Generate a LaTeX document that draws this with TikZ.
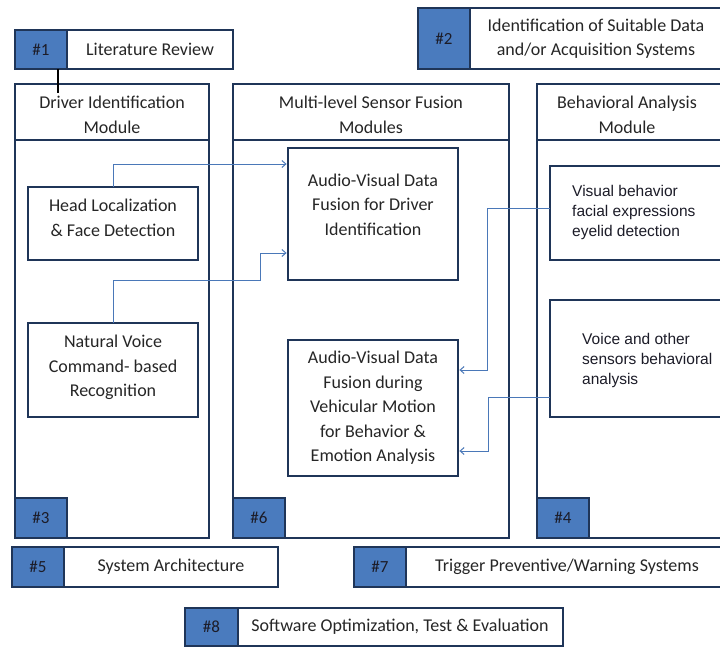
\documentclass[tikz,border=0pt]{standalone}
\usepackage{fontspec}
\setmainfont{Carlito}
\newfontfamily\arialf{Liberation Sans}
\usetikzlibrary{arrows.meta}
\definecolor{navy}{HTML}{1F3558}
\definecolor{tagblue}{HTML}{4A7BBE}
\definecolor{linkblue}{HTML}{4A78B8}
\definecolor{ink}{HTML}{262626}
\definecolor{inkb}{HTML}{1C1C28}
\begin{document}
\begin{tikzpicture}[x=1pt,y=-1pt,
  frame/.style={draw=navy, line width=2.8pt, fill=white, inner sep=0pt, outer sep=0pt, anchor=north west},
  tag/.style={frame, fill=tagblue, minimum width=52pt, minimum height=40pt},
  lbl/.style={font=\fontsize{18}{24.5}\selectfont, text=ink, align=center, inner sep=0pt},
  num/.style={font=\fontsize{17}{20}\selectfont, text=inkb, inner sep=0pt},
  arl/.style={font=\arialf\fontsize{15.5}{19.8}\selectfont, text=inkb, align=left, inner sep=0pt, anchor=west},
  link/.style={draw=linkblue, line width=1pt, shorten >=1.4pt, -{Straight Barb[length=4pt,width=7pt]}},
  tick/.style={draw=black, line width=1.6pt},
]
\clip (0,0) rectangle (720,648);
\fill[white] (0,0) rectangle (720,648);

% ---- top tasks
\node[frame, minimum width=218pt, minimum height=39pt] (b1) at (15,30) {};
\node[tag, minimum height=39pt] (t1) at (15,30) {};
\node[num] (n1) at (t1.center) {\#1};
\node[lbl] (l1) at (150,49) {Literature Review};

\node[frame, minimum width=306pt, minimum height=61pt] (b2) at (418,8) {};
\node[tag, minimum height=61pt] (t2) at (418,8) {};
\node[num] (n2) at (t2.center) {\#2};
\node[lbl] (l2) at (596,38.5) {Identification of Suitable Data\\and/or Acquisition Systems};

% ---- module columns
\node[frame, minimum width=194pt, minimum height=454pt] (c1) at (15,84) {};
\node[frame, minimum width=194pt, minimum height=56pt] (h1) at (15,84) {};
\node[lbl] (hl1) at (112,115) {Driver Identification\\Module};

\node[frame, minimum width=276pt, minimum height=454pt] (c2) at (233,84) {};
\node[frame, minimum width=276pt, minimum height=56pt] (h2) at (233,84) {};
\node[lbl] (hl2) at (371,115) {Multi-level Sensor Fusion\\Modules};

\node[frame, minimum width=190pt, minimum height=454pt] (c3) at (537,84) {};
\node[frame, minimum width=190pt, minimum height=56pt] (h3) at (537,84) {};
\node[lbl] (hl3) at (627,115) {Behavioral Analysis\\Module};

% ---- inner boxes
\node[frame, minimum width=170pt, minimum height=73pt] (hl) at (28,187) {};
\node[lbl] (hlt) at (113,218) {Head Localization\\\& Face Detection};

\node[frame, minimum width=170pt, minimum height=94pt] (nv) at (28,323) {};
\node[lbl] (nvt) at (113,367.5) {Natural Voice\\Command- based\\Recognition};

\node[frame, minimum width=170pt, minimum height=132pt] (avd) at (288,148) {};
\node[lbl] (avdt) at (373,204.5) {Audio-Visual Data\\Fusion for Driver\\Identification};

\node[frame, minimum width=170pt, minimum height=136pt] (avm) at (288,340) {};
\node[lbl] (avmt) at (373,408) {Audio-Visual Data\\Fusion during\\Vehicular Motion\\for Behavior \&\\Emotion Analysis};

\node[frame, minimum width=180pt, minimum height=94pt] (vb) at (550,166) {};
\node[arl] (vbt) at (572,212.5) {Visual behavior\\facial expressions\\eyelid detection};

\node[frame, minimum width=180pt, minimum height=117pt] (vo) at (550,300) {};
\node[arl] (vot) at (582,360.5) {Voice and other\\sensors behavioral\\analysis};

% ---- corner tags of the columns
\node[tag] (t3) at (15,498) {};
\node[num] (n3) at (t3.center) {\#3};
\node[tag] (t6) at (233,498) {};
\node[num] (n6) at (t6.center) {\#6};
\node[tag] (t4) at (537,498) {};
\node[num] (n4) at (t4.center) {\#4};

% ---- bottom tasks
\node[frame, minimum width=266pt, minimum height=40pt] (b5) at (12,547) {};
\node[tag] (t5) at (12,547) {};
\node[num] (n5) at (t5.center) {\#5};
\node[lbl] (l5) at (171,567) {System Architecture};

\node[frame, minimum width=380pt, minimum height=40pt] (b7) at (354,547) {};
\node[tag] (t7) at (354,547) {};
\node[num] (n7) at (t7.center) {\#7};
\node[lbl] (l7) at (567,567) {Trigger Preventive/Warning Systems};

\node[frame, minimum width=378pt, minimum height=38pt] (b8) at (185,608) {};
\node[tag, minimum width=53pt, minimum height=38pt] (t8) at (185,608) {};
\node[num] (n8) at (t8.center) {\#8};
\node[lbl] (l8) at (400,627) {Software Optimization, Test \& Evaluation};

% ---- link from task 1 to the first module
\coordinate (tk) at (58,93);
\draw[tick] (t1.south -| tk) -- (tk);

% ---- data flow
\draw[link] (hl.north) |- (avd.west |- 0,164);
\draw[link] (nv.north) |- (260,280) |- (avd.west |- 0,253);
\draw[link] (vb.west |- 0,208) -| (487,370) -- (avm.east |- 0,370);
\draw[link] (vo.west |- 0,397) -| (488,451) -- (avm.east |- 0,451);
\end{tikzpicture}
\end{document}
